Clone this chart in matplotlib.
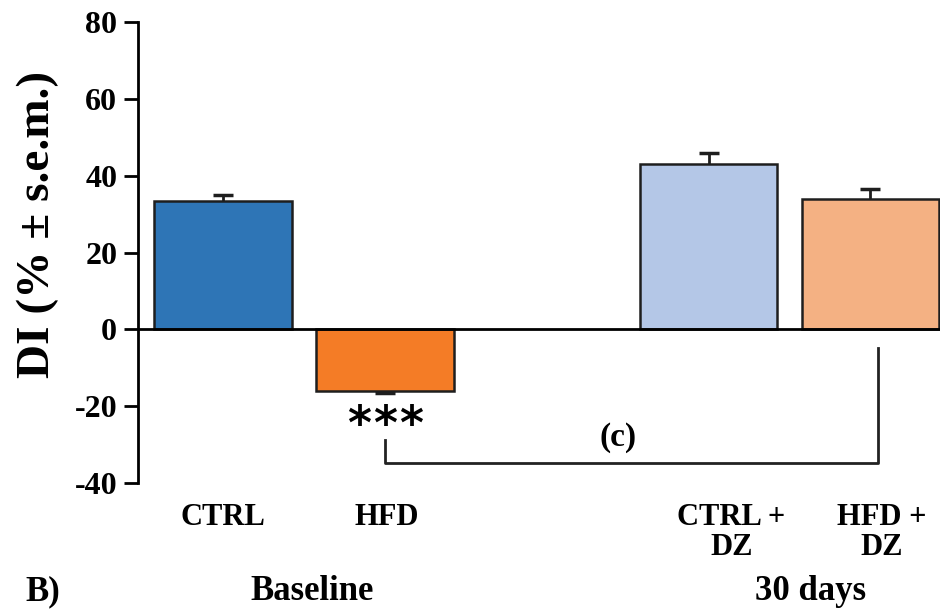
import matplotlib
matplotlib.use("Agg")
import matplotlib.pyplot as plt

# values
groups = ["CTRL", "HFD", "CTRL +\nDZ", "HFD +\nDZ"]
positions = [0, 1, 3, 4]
means = [33.5, -16.0, 43.0, 34.0]
sem = [1.4, 0.7, 2.8, 2.6]
colors = ["#2e75b6", "#f47c26", "#b4c7e7", "#f4b183"]
yticks = [-40, -20, 0, 20, 40, 60, 80]

plt.rcParams['font.family'] = ['Liberation Serif', 'DejaVu Serif']
plt.rcParams['font.weight'] = 'bold'
plt.rcParams['axes.unicode_minus'] = False

fig = plt.figure(figsize=(9.4, 6.09), dpi=100)
W, H = 940, 609
ax = fig.add_axes([138 / W, 1 - 483 / H, (W - 138) / W, (483 - 22) / H])

ax.bar(positions, means, width=0.85, color=colors, edgecolor="#1e1e1e", linewidth=1.8, zorder=2)

# one-sided error bars (away from zero), cap only at the tip
tips = [m + s if m >= 0 else m - s for m, s in zip(means, sem)]
ax.vlines(positions, means, tips, color="#1e1e1e", lw=2, zorder=3)
ax.hlines(tips, [p - 0.062 for p in positions], [p + 0.062 for p in positions],
          color="#1e1e1e", lw=2.5, zorder=3)

ax.axhline(0, color="black", lw=2, zorder=3)

ax.set_xlim(-0.525, 4.43)
ax.set_ylim(-40, 80)
ax.set_yticks(yticks)
ax.tick_params(axis="y", direction="out", length=10, width=2, labelsize=23, pad=5)
ax.set_xticks([])
for s in ["top", "right", "bottom"]:
    ax.spines[s].set_visible(False)
ax.spines["left"].set_linewidth(2)

ax.set_ylabel("DI (% ± s.e.m.)", fontsize=34, fontweight="bold")
ax.yaxis.set_label_coords(-0.099, 0.56)

# group labels below the axis
lab_x = [0, 1.01, 3.14, 4.07]
for x, g in zip(lab_x, groups):
    ax.text(x, -0.043, g, transform=ax.get_xaxis_transform(), ha="center", va="top",
            fontsize=22, fontweight="bold", linespacing=1.05)

ax.text(0.55, -0.254, "Baseline", transform=ax.get_xaxis_transform(), ha="center",
        va="baseline", fontsize=25, fontweight="bold")
ax.text(3.63, -0.254, "30 days", transform=ax.get_xaxis_transform(), ha="center",
        va="baseline", fontsize=25, fontweight="bold")
fig.text(43 / W, 1 - 600 / H, "B)", ha="center", va="baseline", fontsize=25, fontweight="bold")

# significance marks
for dx in (-0.16, 0, 0.16):
    ax.text(1.0 + dx, -25.3, "*", ha="center", va="center", fontsize=33,
            fontweight="bold", family="DejaVu Sans")
ax.plot([1.0, 1.0, 4.05, 4.05], [-28.9, -34.9, -34.9, -4.9], color="#222222", lw=2,
        clip_on=False)
ax.text(2.44, -28.1, "(c)", ha="center", va="center", fontsize=24, fontweight="bold")

fig.savefig("out.png", dpi=100)
